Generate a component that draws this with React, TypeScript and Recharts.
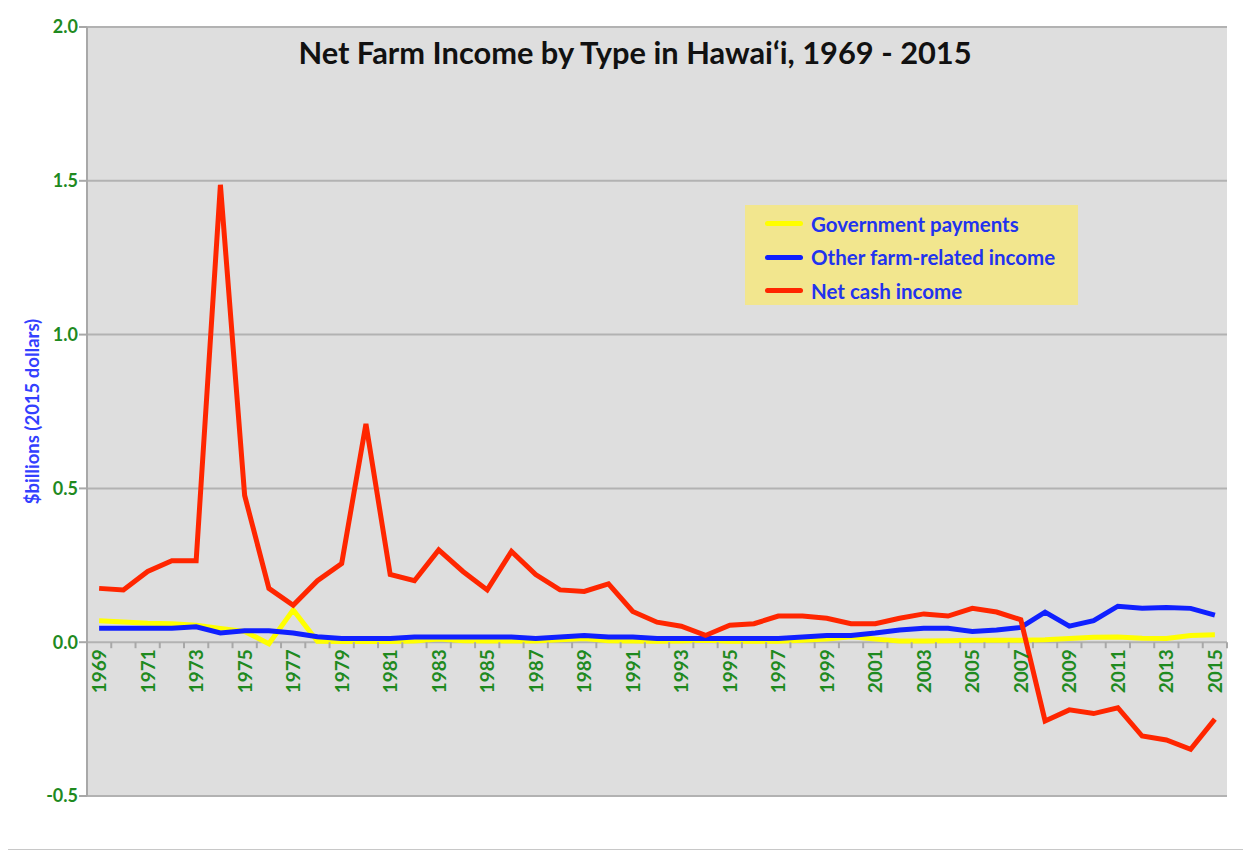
import { CartesianGrid, Line, LineChart, XAxis, YAxis } from 'recharts';

const years: number[] = Array.from({ length: 47 }, (_, i) => 1969 + i);

// $billions, 2015 dollars
const govPayments = [
  0.07, 0.066, 0.062, 0.06, 0.055, 0.045, 0.035, -0.005, 0.105, 0.003,
  0.002, 0.002, 0.002, 0.004, 0.01, 0.005, 0.004, 0.004, 0.004, 0.008,
  0.012, 0.005, 0.004, 0.003, 0.004, 0.006, 0.003, 0.003, 0.003, 0.006,
  0.01, 0.018, 0.01, 0.004, 0.004, 0.005, 0.006, 0.006, 0.006, 0.008,
  0.012, 0.016, 0.017, 0.013, 0.012, 0.022, 0.024,
];
const otherIncome = [
  0.045, 0.045, 0.045, 0.045, 0.05, 0.03, 0.037, 0.037, 0.03, 0.018,
  0.012, 0.012, 0.012, 0.017, 0.017, 0.017, 0.017, 0.017, 0.012, 0.017,
  0.022, 0.017, 0.017, 0.012, 0.012, 0.012, 0.012, 0.012, 0.012, 0.017,
  0.022, 0.022, 0.03, 0.04, 0.045, 0.045, 0.035, 0.04, 0.048, 0.098,
  0.052, 0.07, 0.117, 0.11, 0.113, 0.11, 0.088,
];
const netCash = [
  0.175, 0.17, 0.23, 0.265, 0.265, 1.487, 0.477, 0.175, 0.12, 0.2,
  0.256, 0.71, 0.22, 0.2, 0.3, 0.23, 0.17, 0.295, 0.22, 0.17,
  0.165, 0.19, 0.1, 0.065, 0.052, 0.022, 0.055, 0.06, 0.085, 0.085,
  0.078, 0.06, 0.06, 0.078, 0.092, 0.085, 0.11, 0.098, 0.073, -0.256,
  -0.22, -0.232, -0.213, -0.305, -0.318, -0.348, -0.25,
];
const yTicks = [-0.5, 0, 0.5, 1.0, 1.5, 2.0];

const series = [
  { key: 'gov', name: 'Government payments', color: '#ffff00', values: govPayments },
  { key: 'other', name: 'Other farm-related income', color: '#1020ff', values: otherIncome },
  { key: 'net', name: 'Net cash income', color: '#ff2600', values: netCash },
];

const data = years.map((year, i) => ({
  year,
  gov: govPayments[i],
  other: otherIncome[i],
  net: netCash[i],
}));

const W = 1236;
const H = 841;
const MARGIN = { top: 19, right: 17, left: 0, bottom: 0 };
const Y_AXIS_W = 79;
const X_AXIS_H = 53;
const Y_MIN = -0.5;
const Y_MAX = 2.0;
const plotTop = MARGIN.top;
const plotH = H - MARGIN.top - MARGIN.bottom - X_AXIS_H;
const plotW = W - MARGIN.left - MARGIN.right - Y_AXIS_W;
const band = plotW / years.length;
const zeroY = plotTop + (plotH * Y_MAX) / (Y_MAX - Y_MIN);

const FONT = 'Lato, "Open Sans", sans-serif';
const GREEN = '#1f8a1f';

function YearTick(props: any) {
  const { x, payload, index } = props;
  const i = index ?? payload.index;
  const left = x - band / 2;
  const ax = x + 7;
  const ay = zeroY + 7;
  return (
    <g>
      <line x1={left} x2={left} y1={zeroY} y2={zeroY + 6} stroke="#a8a8a8" strokeWidth={2} />
      {i === years.length - 1 && (
        <line x1={x + band / 2} x2={x + band / 2} y1={zeroY} y2={zeroY + 6} stroke="#a8a8a8" strokeWidth={2} />
      )}
      {i % 2 === 0 && (
        <text
          x={ax}
          y={ay}
          transform={`rotate(-90 ${ax} ${ay})`}
          textAnchor="end"
          fontFamily={FONT}
          fontWeight={700}
          fontSize={19}
          fill={GREEN}
        >
          {payload.value}
        </text>
      )}
    </g>
  );
}

function YLabel() {
  const cx = 24;
  const cy = plotTop + plotH / 2;
  return (
    <text
      x={cx}
      y={cy}
      transform={`rotate(-90 ${cx} ${cy})`}
      textAnchor="middle"
      dominantBaseline="central"
      fontFamily={FONT}
      fontWeight={700}
      fontSize={18.5}
      fill="#3340ff"
    >
      $billions (2015 dollars)
    </text>
  );
}

export default function App() {
  return (
    <div
      style={{
        position: 'relative',
        width: W,
        height: H,
        border: '1px solid #c8c8c8',
        background: '#ffffff',
        marginLeft: -1,
        marginTop: -1,
      }}
    >
      <LineChart width={W} height={H} data={data} margin={MARGIN}>
        <CartesianGrid fill="#dedede" vertical={false} stroke="#b2b2b2" strokeWidth={2} />
        <XAxis
          dataKey="year"
          interval={0}
          height={X_AXIS_H}
          axisLine={false}
          tickLine={false}
          tick={<YearTick />}
          padding={{ left: band / 2, right: band / 2 }}
        />
        <YAxis
          width={Y_AXIS_W}
          domain={[Y_MIN, Y_MAX]}
          ticks={yTicks}
          interval={0}
          tickFormatter={(v: number) => v.toFixed(1)}
          tick={{ fontFamily: FONT, fontWeight: 700, fontSize: 18, fill: GREEN }}
          tickLine={{ stroke: '#a8a8a8', strokeWidth: 2 }}
          tickSize={8}
          tickMargin={1}
          axisLine={{ stroke: '#a8a8a8', strokeWidth: 2 }}
          label={<YLabel />}
        />
        {series.map((s) => (
          <Line
            key={s.key}
            type="linear"
            dataKey={s.key}
            name={s.name}
            stroke={s.color}
            strokeWidth={5}
            dot={false}
            activeDot={false}
            isAnimationActive={false}
          />
        ))}
      </LineChart>
      <div
        style={{
          position: 'absolute',
          left: 10,
          top: 26,
          width: W - 2,
          textAlign: 'center',
          fontFamily: FONT,
          fontWeight: 700,
          fontSize: 30.8,
          color: '#111',
        }}
      >
        Net Farm Income by Type in Hawai‘i, 1969 - 2015
      </div>
      <div
        style={{
          position: 'absolute',
          left: 737,
          top: 197,
          width: 333,
          height: 100,
          background: '#f2e68e',
          boxSizing: 'border-box',
          padding: '2px 0 0 20px',
        }}
      >
        {series.map((s) => (
          <div key={s.key} style={{ display: 'flex', alignItems: 'center', height: 33.5 }}>
            <div style={{ width: 38, height: 5, borderRadius: 3, background: s.color, marginRight: 8 }} />
            <span style={{ fontFamily: FONT, fontWeight: 700, fontSize: 20.5, color: '#2233ee' }}>{s.name}</span>
          </div>
        ))}
      </div>
    </div>
  );
}
